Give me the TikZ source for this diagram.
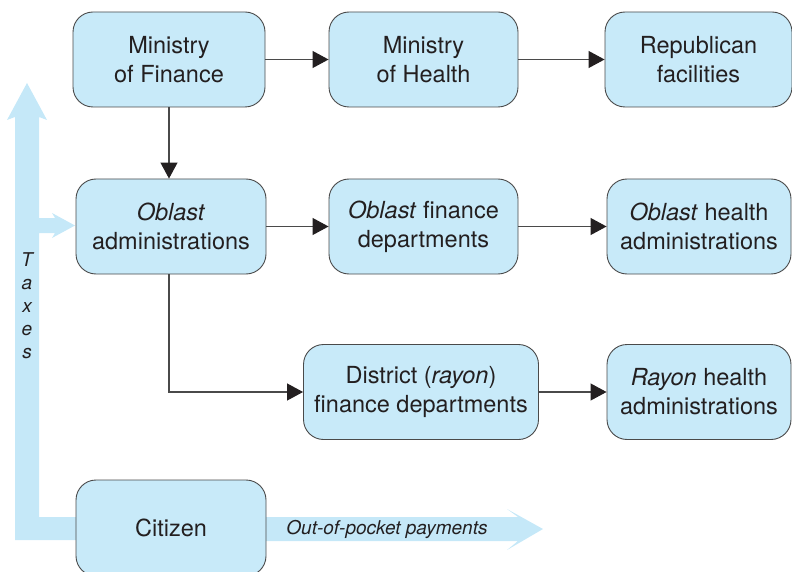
\documentclass[tikz,border=0pt]{standalone}
\usepackage{fontspec}
\setmainfont{TeX Gyre Heros}
\usetikzlibrary{arrows.meta}
\definecolor{boxfill}{HTML}{C8EAF9}
\definecolor{flowfill}{HTML}{C5E8F8}
\definecolor{ink}{HTML}{231F20}
\definecolor{edge}{HTML}{4A4A4A}
\tikzset{
  unit/.style={draw=edge, line width=0.9pt, fill=boxfill, rounded corners=20pt,
    align=center, inner sep=0pt, text=ink,
    font=\fontsize{23.5}{29}\selectfont, minimum height=95pt},
  conn/.style={draw=edge, line width=1.1pt,
    -{Triangle[length=16pt,width=17pt,fill=ink,color=ink]}},
  flow/.style={fill=flowfill, draw=none},
  flowlabel/.style={text=ink, font=\fontsize{19}{23}\selectfont\itshape, inner sep=0pt}
}
\begin{document}
\begin{tikzpicture}[x=1pt,y=-1pt]
\useasboundingbox (0,0) rectangle (792,572);
\clip (0,0) rectangle (792,572);

% tax flow: from the citizen up to the centre, with a branch into the oblasts
\fill[flow] (110,540) -- (15,540) -- (15,117) -- (7,120) -- (27,83) -- (47,120)
  -- (39,117) -- (39,218) -- (55,218) -- (52,213) -- (75,225.5) -- (52,238)
  -- (55,233) -- (39,233) -- (39,517) -- (110,517) -- cycle;
% out-of-pocket flow
\fill[flow] (230,517) -- (518,517) -- (507,509) -- (543,529) -- (507,550)
  -- (518,541) -- (230,541) -- cycle;

% organisations
\node[unit, minimum width=192pt] (mof)  at (169,59.5)  {Ministry\\of Finance};
\node[unit, minimum width=189pt] (moh)  at (423.5,59.5)  {Ministry\\of Health};
\node[unit, minimum width=187pt] (rep)  at (698.5,59.5)  {Republican\\facilities};
\node[unit, minimum width=190pt] (obl)  at (171,226.5) {\textit{Oblast}\\administrations};
\node[unit, minimum width=189pt] (oblf) at (423.5,226.5) {\textit{Oblast} finance\\departments};
\node[unit, minimum width=184pt] (oblh) at (699,226.5) {\textit{Oblast} health\\administrations};
\node[unit, minimum width=235pt] (dist) at (421,392) {District (\textit{rayon})\\finance departments};
\node[unit, minimum width=184pt] (rayh) at (699,392) {\textit{Rayon} health\\administrations};
\node[unit, minimum width=190pt, minimum height=96pt] (cit) at (171,528) {Citizen};

% flow labels
\node[flowlabel] (oop) at (387,529) {Out-of-pocket payments};
\node[flowlabel, align=center, font=\fontsize{19}{23}\selectfont\itshape] (tax) at (27,306) {T\\a\\x\\e\\s};

% budget channels
\coordinate (split) at (mof.south |- obl.south);
\draw[conn] (mof) -- (moh);
\draw[conn] (moh) -- (rep);
\draw[conn] (mof.south) -- (mof.south |- obl.north);
\draw[conn] (obl) -- (oblf);
\draw[conn] (oblf) -- (oblh);
\draw[conn] (split) |- (dist.west);
\draw[conn] (dist) -- (rayh);
\end{tikzpicture}
\end{document}
